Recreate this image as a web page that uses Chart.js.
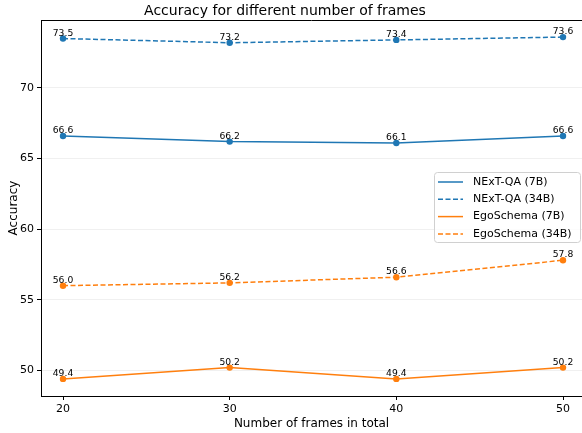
<!DOCTYPE html>
<html>
<head>
<meta charset="utf-8">
<script src="https://cdn.jsdelivr.net/npm/chart.js@4.4.1/dist/chart.umd.min.js"></script>
<style>
  html, body { margin: 0; padding: 0; background: #fff; overflow: hidden; }
  #wrap { width: 582px; height: 433px; }
</style>
</head>
<body>
<div id="wrap"><canvas id="c" width="582" height="433"></canvas></div>
<script>
// ── DATA ───────────────────────────────────────
const frames     = [20, 30, 40, 50];
const nextqa7b   = [66.6, 66.2, 66.1, 66.6];
const nextqa34b  = [73.5, 73.2, 73.4, 73.6];
const ego7b      = [49.4, 50.2, 49.4, 50.2];
const ego34b     = [56.0, 56.2, 56.6, 57.8];
const yTicks     = [50, 55, 60, 65, 70];

const BLUE = '#1f77b4', ORANGE = '#ff7f0e';
const FONT = 'DejaVu Sans';

function series(label, vals, color, dashed) {
  return {
    label,
    data: frames.map((f, i) => ({ x: f, y: vals[i] })),
    borderColor: color,
    backgroundColor: color,
    borderWidth: 1.5,
    borderDash: dashed ? [5, 2.5] : [],
    pointRadius: 3.2,
    pointBorderWidth: 0,
    pointBackgroundColor: color,
    tension: 0
  };
}

// ── PLUGIN: title, top spine, value labels, legend ──
const decor = {
  id: 'decor',
  afterDatasetsDraw(chart) {
    const { ctx, chartArea: a } = chart;
    ctx.save();

    // top spine
    ctx.strokeStyle = '#000';
    ctx.lineWidth = 1;
    ctx.beginPath();
    ctx.moveTo(a.left, a.top + 0.5);
    ctx.lineTo(a.right, a.top + 0.5);
    ctx.stroke();

    // value labels
    ctx.fillStyle = '#000';
    ctx.font = '9.2px "' + FONT + '"';
    ctx.textAlign = 'center';
    ctx.textBaseline = 'alphabetic';
    chart.data.datasets.forEach((ds, di) => {
      chart.getDatasetMeta(di).data.forEach((pt, i) => {
        ctx.fillText(ds.data[i].y.toFixed(1), pt.x, pt.y - 3);
      });
    });

    // legend
    const lx = 434, ly = 172, lw = 146, lh = 70, r = 3;
    ctx.fillStyle = 'rgba(255,255,255,0.8)';
    ctx.strokeStyle = '#d0d0d0';
    ctx.lineWidth = 1;
    ctx.beginPath();
    ctx.roundRect(lx + 0.5, ly + 0.5, lw, lh, r);
    ctx.fill();
    ctx.stroke();
    ctx.font = '11px "' + FONT + '"';
    ctx.textAlign = 'left';
    ctx.textBaseline = 'middle';
    chart.data.datasets.forEach((ds, i) => {
      const y = ly + 10 + i * 17.3;
      ctx.strokeStyle = ds.borderColor;
      ctx.lineWidth = 1.5;
      ctx.setLineDash(ds.borderDash);
      ctx.beginPath();
      ctx.moveTo(lx + 4, y);
      ctx.lineTo(lx + 29, y);
      ctx.stroke();
      ctx.setLineDash([]);
      ctx.fillStyle = '#000';
      ctx.fillText(ds.label, lx + 39, y);
    });

    // title
    ctx.font = '14px "' + FONT + '"';
    ctx.textAlign = 'center';
    ctx.textBaseline = 'middle';
    ctx.fillStyle = '#000';
    ctx.fillText('Accuracy for different number of frames', 285, 11);
    ctx.restore();
  }
};

new Chart(document.getElementById('c'), {
  type: 'line',
  data: {
    datasets: [
      series('NExT-QA (7B)', nextqa7b, BLUE, false),
      series('NExT-QA (34B)', nextqa34b, BLUE, true),
      series('EgoSchema (7B)', ego7b, ORANGE, false),
      series('EgoSchema (34B)', ego34b, ORANGE, true)
    ]
  },
  options: {
    responsive: false,
    animation: false,
    layout: { autoPadding: false, padding: { top: 20, right: 0, left: 0, bottom: 0 } },
    plugins: { legend: { display: false }, tooltip: { enabled: false }, title: { display: false } },
    scales: {
      x: {
        type: 'linear',
        min: 18.68,
        max: 51.14,
        afterBuildTicks: s => { s.ticks = frames.map(v => ({ value: v })); },
        afterFit: s => { s.height = 37; s.paddingLeft = 0; s.paddingRight = 0; },
        grid: { drawOnChartArea: false, tickLength: 4, tickColor: '#000' },
        border: { color: '#000', width: 1 },
        ticks: { color: '#000', font: { family: FONT, size: 11 }, padding: 3, maxRotation: 0 },
        title: { display: true, text: 'Number of frames in total', color: '#000',
                 font: { family: FONT, size: 12 }, padding: { top: 0, bottom: 2 } }
      },
      y: {
        min: 48.19,
        max: 74.81,
        afterBuildTicks: s => { s.ticks = yTicks.map(v => ({ value: v })); },
        afterFit: s => { s.width = 41; s.paddingTop = 0; s.paddingBottom = 0; },
        grid: { color: '#f0f0f0', tickLength: 4, tickColor: '#000' },
        border: { color: '#000', width: 1 },
        ticks: { color: '#000', font: { family: FONT, size: 11 }, padding: 3 },
        title: { display: true, text: 'Accuracy', color: '#000',
                 font: { family: FONT, size: 12 }, padding: { top: 7, bottom: 0 } }
      }
    }
  },
  plugins: [decor]
});
</script>
</body>
</html>
